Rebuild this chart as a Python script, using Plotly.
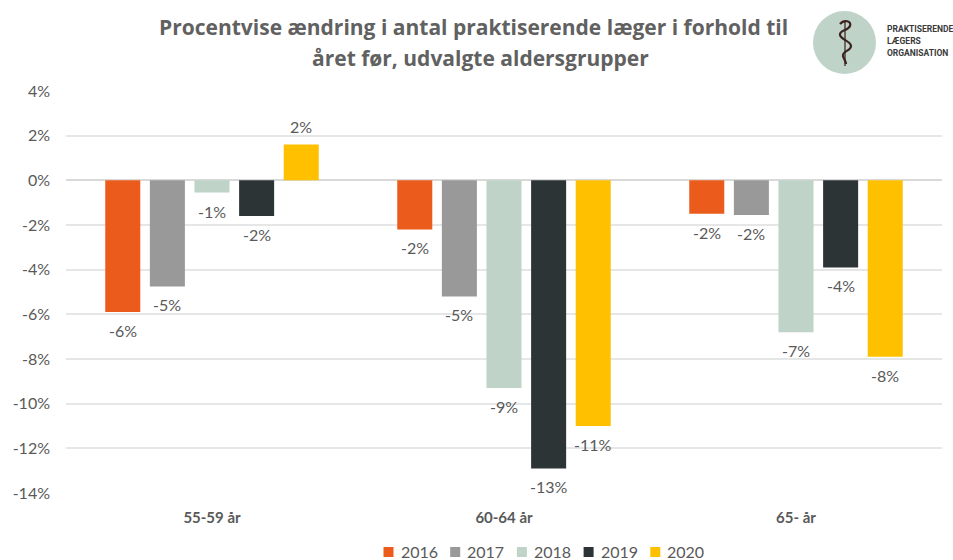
import plotly.graph_objects as go

W, H = 953, 560
L, R, T, B = 66, 942, 91, 493

categories = ["55-59 år", "60-64 år", "65- år"]
years = ["2016", "2017", "2018", "2019", "2020"]
colors = ["#EB5B1C", "#999999", "#BFD3C9", "#2D3436", "#FFC000"]
v2016 = [-5.9, -2.2, -1.5]
v2017 = [-4.75, -5.2, -1.55]
v2018 = [-0.55, -9.3, -6.8]
v2019 = [-1.6, -12.9, -3.9]
v2020 = [1.6, -11.0, -7.9]
series = [v2016, v2017, v2018, v2019, v2020]
l2016 = ["-6%", "-2%", "-2%"]
l2017 = ["-5%", "-5%", "-2%"]
l2018 = ["-1%", "-9%", "-7%"]
l2019 = ["-2%", "-13%", "-4%"]
l2020 = ["2%", "-11%", "-8%"]
labels = [l2016, l2017, l2018, l2019, l2020]
ticks = [4, 2, 0, -2, -4, -6, -8, -10, -12, -14]
tick_labels = ["4%", "2%", "0%", "-2%", "-4%", "-6%", "-8%", "-10%", "-12%", "-14%"]
title_lines = ["Procentvise ændring i antal praktiserende læger i forhold til",
               "året før, udvalgte aldersgrupper"]
logo_lines = ["PRAKTISERENDE", "LÆGERS", "ORGANISATION"]

BODY = "Lato, 'Liberation Sans', sans-serif"
GREY = "#595959"
BARGAP = 0.236

fig = go.Figure()
for y, c, v in zip(years, colors, series):
    fig.add_bar(name=y, x=categories, y=v, marker=dict(color=c, line_width=0))


def px(x):
    return (x - L) / (R - L)


def py(y):
    return (B - y) / (B - T)


shapes = [
    dict(type="circle", xref="paper", yref="paper", x0=px(813), x1=px(876),
         y0=py(74), y1=py(11), fillcolor="#BFD3C9", line_width=0, layer="above"),
    dict(type="path", xref="paper", yref="paper", layer="above",
         path=f"M {px(845)} {py(21)} L {px(845)} {py(66)}",
         line=dict(color="#5A4038", width=1.5)),
    dict(type="path", xref="paper", yref="paper", layer="above",
         path=(f"M {px(840)} {py(24)} C {px(844)} {py(19)}, {px(852)} {py(21)}, {px(850)} {py(26)} "
               f"C {px(848)} {py(31)}, {px(839)} {py(30)}, {px(840)} {py(35)} "
               f"C {px(841)} {py(40)}, {px(851)} {py(41)}, {px(851)} {py(46)} "
               f"C {px(851)} {py(51)}, {px(842)} {py(51)}, {px(843)} {py(56)} "
               f"C {px(844)} {py(60)}, {px(846)} {py(61)}, {px(846)} {py(64)}"),
         line=dict(color="#3A2420", width=2.2)),
]

ann = []
pitch = (1 - BARGAP) / len(years)
for k, (v, t) in enumerate(zip(series, labels)):
    for i, (val, lab) in enumerate(zip(v, t)):
        ann.append(dict(text=lab, xref="x", yref="y", x=i + (k - 2) * pitch, y=val,
                        yshift=18.5 if val > 0 else -18.5, xanchor="center", yanchor="middle",
                        showarrow=False, font=dict(size=16, color=GREY, family=BODY)))
for line, xx, yy in zip(title_lines, [473, 480], [27, 58]):
    ann.append(dict(text=f"<b>{line}</b>", xref="paper", yref="paper", x=px(xx), y=py(yy),
                    xanchor="center", yanchor="middle", showarrow=False,
                    font=dict(size=21, color="#616161", family="'Open Sans', sans-serif")))
for s, yy in zip(logo_lines, [29, 41, 53]):
    ann.append(dict(text=f"<b>{s}</b>", xref="paper", yref="paper", x=px(885), y=py(yy),
                    xanchor="left", yanchor="middle", showarrow=False,
                    font=dict(size=8.5, color="#3A3A3A", family="Roboto, sans-serif")))
for i, (yr, c) in enumerate(zip(years, colors)):
    x0 = 383.5 + i * 66.7
    shapes.append(dict(type="rect", xref="paper", yref="paper", x0=px(x0), x1=px(x0 + 10),
                       y0=py(557), y1=py(547), fillcolor=c, line_width=0))
    ann.append(dict(text=yr, xref="paper", yref="paper", x=px(x0 + 15), y=py(551.5),
                    xanchor="left", yanchor="middle", showarrow=False,
                    font=dict(size=16, color=GREY, family=BODY)))

fig.update_layout(
    width=W, height=H, autosize=False,
    paper_bgcolor="white", plot_bgcolor="white",
    margin=dict(l=L, r=W - R, t=T, b=H - B, pad=0),
    barmode="group", bargap=BARGAP, bargroupgap=0.215,
    xaxis=dict(type="category", ticks="", showline=False, showgrid=False,
               tickfont=dict(size=15, color=GREY, family=BODY),
               tickvals=categories, ticktext=[f"<b>{c}</b>" for c in categories],
               ticklabelstandoff=14, zeroline=False),
    yaxis=dict(range=[-14, 4], tickvals=ticks, ticktext=tick_labels,
               tickfont=dict(size=16, color=GREY, family=BODY),
               gridcolor="#E6E6E6", gridwidth=1.5, zeroline=True, zerolinecolor="#D9D9D9",
               zerolinewidth=1.5, showline=False, ticks="", ticklabelstandoff=15),
    shapes=shapes, annotations=ann, showlegend=False,
)
fig.write_html("out.html", config={"displayModeBar": False},
               post_script="document.body.style.margin='0';document.body.style.overflow='hidden';")
